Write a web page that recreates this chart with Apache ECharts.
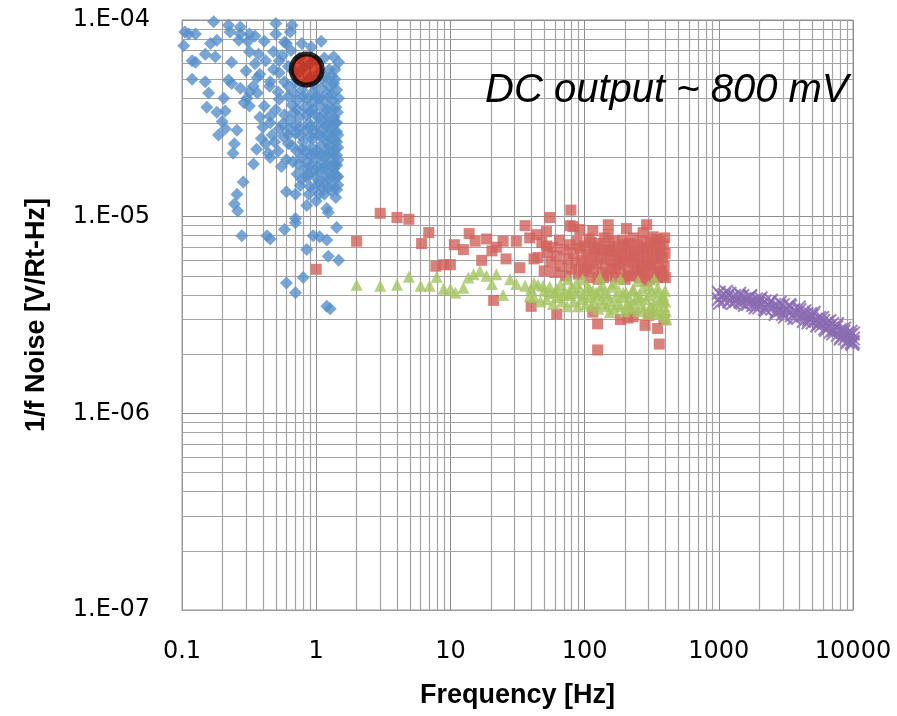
<!DOCTYPE html>
<html>
<head>
<meta charset="utf-8">
<script src="https://cdn.jsdelivr.net/npm/echarts@6/dist/echarts.min.js"></script>
<style>
  html, body { margin: 0; background: #fff; }
  #chart { width: 897px; height: 716px; }
</style>
</head>
<body>
<div id="chart"></div>
<script>
// frequency [Hz] / noise [V/rt-Hz] pairs
const xTicks = [0.1, 1, 10, 100, 1000, 10000]
const yTicks = [1e-7, 1e-6, 1e-5, 1e-4]
const noteText = 'DC output ~ 800 mV'

const blueData = [
  [0.172, 9.8e-5], [0.222, 9.4e-5], [0.272, 9.2e-5], [0.50, 9.6e-5], [0.66, 9.4e-5],
  [0.105, 8.7e-5], [0.126, 8.5e-5], [0.112, 8.5e-5], [0.228, 8.7e-5], [0.272, 8.5e-5],
  [0.318, 8.5e-5], [0.35, 8.3e-5], [0.50, 8.5e-5], [0.64, 8.7e-5], [0.103, 7.4e-5],
  [0.182, 7.9e-5], [0.163, 7.6e-5], [0.265, 7.9e-5], [0.31, 7.8e-5], [0.41, 7.8e-5],
  [0.78, 7.6e-5], [1.09, 7.8e-5], [0.92, 7.3e-5], [0.60, 7.6e-5], [0.149, 6.7e-5],
  [0.177, 6.5e-5], [0.119, 6.2e-5], [0.126, 6.1e-5], [0.234, 6.1e-5], [0.318, 6.9e-5],
  [0.372, 6.7e-5], [0.48, 6.9e-5], [0.53, 6.2e-5], [0.35, 6.0e-5], [1.35, 6.5e-5],
  [1.47, 6.1e-5], [1.38, 5.6e-5], [0.119, 5.0e-5], [0.149, 4.85e-5], [0.222, 4.95e-5],
  [0.234, 4.75e-5], [0.272, 4.5e-5], [0.365, 5.1e-5], [0.38, 5.3e-5], [0.53, 5.4e-5],
  [0.58, 4.85e-5], [0.454, 4.85e-5], [0.365, 4.25e-5], [0.318, 4.3e-5], [1.12, 5.0e-5],
  [1.35, 4.75e-5], [1.47, 4.0e-5], [0.158, 4.25e-5], [0.205, 4.0e-5], [0.305, 4.0e-5],
  [0.318, 3.65e-5], [0.41, 3.65e-5], [0.50, 3.5e-5], [0.454, 3.25e-5], [0.38, 3.2e-5],
  [0.153, 3.6e-5], [0.182, 3.4e-5], [0.21, 3.45e-5], [0.199, 3.05e-5], [0.454, 3.0e-5],
  [0.56, 2.95e-5], [0.53, 3.95e-5], [0.68, 4.25e-5], [0.80, 4.1e-5], [1.0, 4.1e-5],
  [0.72, 3.5e-5], [0.90, 3.4e-5], [1.2, 3.5e-5], [1.42, 3.0e-5], [0.70, 2.9e-5],
  [0.90, 2.85e-5], [1.12, 2.8e-5], [1.42, 2.7e-5], [0.187, 2.6e-5], [0.257, 2.75e-5],
  [0.21, 2.8e-5], [0.40, 2.85e-5], [0.53, 2.8e-5], [0.62, 2.6e-5], [0.76, 2.6e-5],
  [0.95, 2.5e-5], [1.2, 2.4e-5], [1.42, 2.4e-5], [0.246, 2.35e-5], [0.24, 2.1e-5],
  [0.42, 2.35e-5], [0.49, 2.4e-5], [0.62, 2.35e-5], [0.78, 2.2e-5], [1.03, 2.15e-5],
  [1.27, 2.15e-5], [1.42, 2.05e-5], [0.341, 1.85e-5], [0.454, 2.0e-5], [0.60, 1.95e-5],
  [0.74, 1.85e-5], [0.87, 1.9e-5], [1.2, 1.82e-5], [1.42, 1.82e-5], [0.286, 1.5e-5],
  [0.72, 1.65e-5], [0.85, 1.58e-5], [1.06, 1.7e-5], [1.27, 1.65e-5], [1.42, 1.58e-5],
  [0.76, 1.44e-5], [0.90, 1.42e-5], [1.12, 1.4e-5], [1.42, 1.37e-5], [0.60, 1.34e-5],
  [0.70, 1.3e-5], [0.257, 1.3e-5], [0.246, 1.16e-5], [0.26, 1.07e-5], [0.85, 1.14e-5],
  [1.0, 1.2e-5], [1.2, 1.1e-5], [1.23, 1.05e-5], [0.70, 9.8e-6], [0.70, 9.3e-6],
  [0.279, 8.0e-6], [0.43, 8.0e-6], [0.454, 7.7e-6], [0.58, 8.6e-6], [0.95, 8.0e-6],
  [1.06, 7.9e-6], [1.2, 7.6e-6], [1.42, 8.8e-6], [0.85, 6.8e-6], [1.23, 6.3e-6],
  [1.47, 6.0e-6], [0.80, 4.9e-6], [0.60, 4.6e-6], [0.70, 4.1e-6], [1.2, 3.5e-6],
  [1.27, 3.4e-6],
  [0.62, 4.6e-5], [0.70, 4.8e-5], [0.78, 4.4e-5], [0.86, 4.0e-5], [0.93, 3.8e-5],
  [1.05, 3.7e-5], [1.15, 3.9e-5], [1.3, 4.2e-5], [1.4, 3.6e-5], [1.25, 3.2e-5],
  [1.1, 3.1e-5], [0.98, 3.3e-5], [0.82, 3.6e-5], [0.66, 3.7e-5], [0.58, 3.3e-5],
  [0.64, 3.1e-5], [0.75, 3.2e-5], [0.88, 3.0e-5], [1.0, 2.9e-5], [1.18, 2.9e-5],
  [1.32, 2.85e-5], [1.45, 2.6e-5], [1.3, 2.5e-5], [1.12, 2.55e-5], [0.98, 2.7e-5],
  [0.84, 2.75e-5], [0.70, 2.65e-5], [0.57, 2.55e-5], [0.66, 2.3e-5], [0.80, 2.4e-5],
  [0.92, 2.25e-5], [1.08, 2.3e-5], [1.25, 2.3e-5], [1.38, 2.2e-5], [1.45, 1.95e-5],
  [1.3, 1.95e-5], [1.15, 2.0e-5], [1.0, 1.95e-5], [0.90, 2.05e-5], [0.78, 2.0e-5],
  [0.67, 1.9e-5], [1.1, 1.75e-5], [1.35, 1.75e-5], [1.45, 1.6e-5], [1.25, 1.55e-5],
  [0.95, 1.7e-5], [0.82, 1.75e-5], [1.05, 1.5e-5], [1.32, 1.45e-5], [0.78, 1.55e-5],
  [1.15, 1.3e-5], [1.4, 1.25e-5], [0.88, 1.3e-5], [0.52, 4.3e-5], [0.45, 4.6e-5],
  [0.48, 5.6e-5], [0.42, 6.2e-5], [0.56, 6.6e-5], [0.72, 5.3e-5], [0.62, 5.8e-5],
  [1.38, 5.0e-5], [1.42, 4.4e-5], [1.25, 4.6e-5], [1.1, 4.5e-5], [0.96, 4.7e-5],
  [0.90, 5.1e-5], [0.47, 2.6e-5], [0.39, 2.5e-5], [0.36, 2.2e-5], [0.44, 2.1e-5],
  [0.52, 2.15e-5], [0.55, 1.8e-5], [1.0, 6.2e-5], [1.15, 6.4e-5], [0.65, 7.0e-5],
  [0.58, 7.7e-5], [0.30, 5.5e-5], [0.34, 4.6e-5], [0.29, 3.8e-5],
  [0.95, 4.3e-5], [1.05, 4.0e-5], [1.2, 4.2e-5], [1.33, 3.9e-5], [1.44, 3.4e-5],
  [1.36, 3.2e-5], [1.22, 3.0e-5], [1.06, 3.2e-5], [0.94, 3.5e-5], [0.84, 3.3e-5],
  [0.73, 3.9e-5], [0.62, 4.1e-5], [0.68, 3.4e-5], [1.16, 3.4e-5], [1.28, 3.6e-5],
  [1.4, 3.0e-5], [1.3, 2.7e-5], [1.2, 2.6e-5], [1.05, 2.6e-5], [0.9, 2.55e-5],
  [0.76, 2.85e-5], [0.63, 2.8e-5], [1.38, 2.45e-5], [1.45, 2.25e-5], [1.32, 2.1e-5],
  [1.2, 2.15e-5], [1.08, 2.05e-5], [0.96, 2.1e-5], [0.84, 2.15e-5], [0.72, 2.15e-5],
  [1.4, 1.85e-5], [1.28, 1.8e-5], [1.16, 1.85e-5], [1.02, 1.8e-5], [0.9, 1.8e-5],
  [1.38, 1.65e-5], [1.2, 1.6e-5], [1.12, 1.5e-5], [1.3, 1.35e-5], [1.45, 1.45e-5],
  [0.98, 1.6e-5], [0.87, 1.65e-5], [1.22, 1.4e-5], [0.98, 1.4e-5], [1.05, 1.3e-5],
  [0.8, 5.7e-5], [0.9, 6.0e-5], [1.05, 5.4e-5], [1.25, 5.6e-5], [0.75, 6.4e-5],
  [0.84, 4.8e-5], [1.0, 5.0e-5], [1.18, 5.1e-5], [1.3, 5.2e-5], [0.68, 5.5e-5]
]

const redData = [
  [1.0, 5.4e-6], [2.0, 7.5e-6], [3.0, 1.04e-5], [4.0, 9.9e-6], [4.9, 9.7e-6],
  [6.9, 8.3e-6], [6.1, 7.3e-6], [7.8, 5.6e-6], [8.9, 5.7e-6], [10, 5.7e-6],
  [10.7, 7.2e-6], [12.5, 6.8e-6], [13.8, 8.2e-6], [15.3, 7.5e-6], [17.1, 6.0e-6],
  [18.6, 7.7e-6], [20.4, 6.7e-6], [22, 7.0e-6], [24.7, 7.5e-6], [26, 6.1e-6],
  [31, 7.5e-6], [36, 9.0e-6], [39, 7.8e-6], [42, 6.1e-6], [44, 8.1e-6],
  [52, 8.4e-6], [55, 9.9e-6], [52, 7.1e-6], [33, 5.5e-6], [21, 3.75e-6],
  [40, 3.5e-6], [62, 3.2e-6], [79, 1.08e-5], [78, 9.0e-6], [82, 8.9e-6], [92, 8.6e-6],
  [115, 8.5e-6], [150, 9.1e-6], [150, 8.1e-6], [205, 8.7e-6], [290, 9.1e-6],
  [273, 8.3e-6], [115, 3.27e-6], [125, 2.85e-6], [125, 2.1e-6], [185, 3.0e-6],
  [350, 2.7e-6], [360, 2.25e-6], [282, 2.8e-6], [230, 3.1e-6], [390, 3.0e-6],
  [211, 3.05e-6], [300, 3.15e-6],
  [45, 6.2e-6], [48, 7.4e-6], [50, 5.3e-6], [53, 6.6e-6], [56, 5.9e-6],
  [58, 7.0e-6], [60, 5.2e-6], [62, 6.3e-6], [65, 7.6e-6], [67, 5.6e-6],
  [70, 6.8e-6], [72, 5.0e-6], [75, 6.1e-6], [78, 7.2e-6], [80, 5.4e-6],
  [83, 6.5e-6], [86, 5.8e-6], [88, 7.5e-6], [90, 5.1e-6], [93, 6.9e-6],
  [95, 6.0e-6], [98, 5.3e-6], [100, 7.1e-6], [103, 6.4e-6], [106, 5.6e-6],
  [108, 7.7e-6], [110, 4.9e-6], [113, 6.2e-6], [116, 5.4e-6], [118, 7.0e-6],
  [120, 6.6e-6], [123, 5.8e-6], [126, 4.8e-6], [128, 7.3e-6], [131, 6.1e-6],
  [134, 5.2e-6], [137, 6.8e-6], [140, 7.8e-6], [143, 5.6e-6], [146, 6.4e-6],
  [150, 5.0e-6], [153, 7.1e-6], [156, 6.0e-6], [160, 5.4e-6], [163, 6.7e-6],
  [166, 7.5e-6], [170, 4.9e-6], [173, 6.3e-6], [176, 5.7e-6], [180, 7.0e-6],
  [184, 5.2e-6], [188, 6.5e-6], [192, 7.6e-6], [196, 5.9e-6], [200, 4.8e-6],
  [204, 6.9e-6], [208, 6.1e-6], [212, 5.4e-6], [216, 7.3e-6], [220, 6.4e-6],
  [225, 5.0e-6], [230, 7.8e-6], [234, 5.8e-6], [238, 6.7e-6], [242, 5.3e-6],
  [247, 7.2e-6], [252, 6.2e-6], [256, 4.9e-6], [261, 6.9e-6], [266, 5.6e-6],
  [271, 7.5e-6], [276, 6.3e-6], [281, 5.1e-6], [286, 7.0e-6], [291, 5.9e-6],
  [296, 6.6e-6], [302, 4.8e-6], [308, 7.4e-6], [314, 5.5e-6], [320, 6.8e-6],
  [326, 6.1e-6], [332, 5.2e-6], [338, 7.1e-6], [344, 6.4e-6], [350, 4.9e-6],
  [356, 5.8e-6], [362, 7.6e-6], [368, 6.7e-6], [374, 5.3e-6], [380, 6.2e-6],
  [386, 7.2e-6], [392, 5.6e-6], [398, 6.5e-6], [400, 4.9e-6], [395, 7.8e-6],
  [385, 5.0e-6], [365, 5.2e-6], [345, 7.7e-6], [325, 7.9e-6], [305, 5.7e-6],
  [288, 4.7e-6], [270, 5.3e-6], [250, 5.5e-6], [232, 6.3e-6], [214, 5.0e-6],
  [198, 7.2e-6], [182, 6.0e-6], [168, 5.5e-6], [152, 6.8e-6], [138, 4.9e-6],
  [124, 6.9e-6], [112, 7.4e-6], [102, 5.5e-6]
]

const greenData = [
  [2.0, 4.5e-6], [3.0, 4.45e-6], [4.0, 4.5e-6], [4.9, 4.95e-6], [6.0, 4.45e-6],
  [7.0, 4.45e-6], [7.9, 4.95e-6], [8.9, 4.3e-6], [10, 4.3e-6], [10.9, 4.1e-6],
  [12.5, 4.35e-6], [13.6, 4.9e-6], [14.9, 5.1e-6], [16.6, 5.3e-6], [18.6, 5.0e-6],
  [20.4, 4.55e-6], [22, 5.1e-6], [24.7, 4.0e-6], [27.8, 4.8e-6], [31, 4.55e-6],
  [36, 4.45e-6], [39, 3.95e-6], [42, 4.6e-6], [49, 4.45e-6], [55, 4.1e-6],
  [62, 4.3e-6], [69, 4.0e-6], [78, 4.1e-6], [87, 4.6e-6], [97, 4.8e-6],
  [109, 4.3e-6], [122, 4.1e-6], [137, 4.45e-6], [154, 3.27e-6], [163, 4.6e-6],
  [185, 4.8e-6], [194, 4.1e-6], [217, 3.53e-6], [230, 4.3e-6], [258, 3.8e-6],
  [300, 4.45e-6], [325, 3.53e-6], [350, 4.35e-6], [385, 3.8e-6], [400, 3.1e-6],
  [408, 3.0e-6],
  [40, 4.3e-6], [42, 3.9e-6], [45, 4.5e-6], [47, 3.7e-6], [50, 4.2e-6],
  [52, 3.8e-6], [55, 4.4e-6], [58, 3.6e-6], [60, 4.1e-6], [63, 3.9e-6],
  [66, 4.5e-6], [68, 3.7e-6], [71, 4.2e-6], [74, 3.5e-6], [75, 4.8e-6],
  [77, 4.0e-6], [80, 4.4e-6], [83, 3.7e-6], [86, 4.1e-6], [89, 3.5e-6],
  [92, 4.3e-6], [95, 3.8e-6], [98, 4.0e-6], [102, 3.6e-6], [105, 4.4e-6],
  [108, 3.9e-6], [112, 3.5e-6], [115, 4.2e-6], [118, 3.7e-6], [122, 4.0e-6],
  [126, 3.4e-6], [130, 4.3e-6], [130, 4.9e-6], [134, 3.8e-6], [138, 3.6e-6],
  [142, 4.1e-6], [146, 3.5e-6], [150, 4.0e-6], [155, 3.7e-6], [160, 4.4e-6],
  [165, 3.4e-6], [170, 3.9e-6], [175, 3.6e-6], [180, 4.2e-6], [186, 3.5e-6],
  [192, 3.9e-6], [198, 3.3e-6], [204, 4.1e-6], [210, 3.6e-6], [216, 3.8e-6],
  [222, 3.4e-6], [228, 4.2e-6], [235, 3.6e-6], [242, 3.9e-6], [249, 3.3e-6],
  [250, 4.7e-6], [256, 4.0e-6], [263, 3.5e-6], [270, 4.3e-6], [278, 3.4e-6],
  [286, 3.8e-6], [294, 3.2e-6], [302, 4.0e-6], [310, 3.5e-6], [318, 4.2e-6],
  [326, 3.3e-6], [330, 4.8e-6], [335, 3.7e-6], [344, 3.2e-6], [352, 4.1e-6],
  [360, 3.4e-6], [368, 3.8e-6], [376, 3.2e-6], [384, 4.0e-6], [392, 3.5e-6],
  [400, 3.7e-6], [405, 3.3e-6], [398, 4.2e-6]
]

const purpleData = [
  [1000, 4.1e-6], [1000, 3.8e-6], [1050, 3.95e-6], [1100, 4.0e-6], [1100, 3.75e-6],
  [1150, 3.9e-6], [1200, 4.05e-6], [1200, 3.7e-6], [1250, 3.85e-6], [1300, 3.95e-6],
  [1350, 3.75e-6], [1400, 3.9e-6], [1450, 3.7e-6], [1500, 3.95e-6], [1500, 3.65e-6],
  [1600, 3.8e-6], [1650, 3.6e-6], [1700, 3.9e-6], [1750, 3.7e-6], [1800, 3.55e-6],
  [1900, 3.8e-6], [1950, 3.6e-6], [2000, 3.75e-6], [2000, 3.45e-6], [2100, 3.6e-6],
  [2200, 3.7e-6], [2200, 3.4e-6], [2300, 3.55e-6], [2400, 3.65e-6], [2500, 3.4e-6],
  [2600, 3.55e-6], [2700, 3.3e-6], [2800, 3.5e-6], [2900, 3.35e-6], [3000, 3.55e-6],
  [3000, 3.2e-6], [3150, 3.4e-6], [3300, 3.3e-6], [3400, 3.5e-6], [3500, 3.15e-6],
  [3600, 3.35e-6], [3800, 3.25e-6], [3900, 3.05e-6], [4000, 3.35e-6], [4200, 3.15e-6],
  [4300, 2.95e-6], [4500, 3.2e-6], [4700, 3.0e-6], [4800, 3.2e-6], [5000, 2.9e-6],
  [5000, 3.15e-6], [5300, 3.0e-6], [5500, 2.85e-6], [5600, 3.05e-6], [5800, 2.8e-6],
  [6000, 2.95e-6], [6200, 2.7e-6], [6400, 2.9e-6], [6600, 2.75e-6], [6800, 2.6e-6],
  [7000, 2.85e-6], [7200, 2.65e-6], [7500, 2.75e-6], [7700, 2.5e-6], [8000, 2.65e-6],
  [8200, 2.45e-6], [8500, 2.6e-6], [8700, 2.4e-6], [9000, 2.55e-6], [9200, 2.35e-6],
  [9500, 2.5e-6], [9800, 2.3e-6], [10000, 2.55e-6], [10000, 2.3e-6], [10000, 2.4e-6],
  [1020, 3.65e-6], [1130, 4.15e-6], [1280, 3.65e-6], [1420, 4.05e-6], [1560, 3.55e-6],
  [1720, 3.95e-6], [1880, 3.45e-6], [2050, 3.85e-6], [2250, 3.35e-6], [2450, 3.75e-6],
  [2650, 3.2e-6], [2850, 3.65e-6], [3100, 3.1e-6], [3350, 3.55e-6], [3650, 3.05e-6],
  [3950, 3.45e-6], [4350, 3.3e-6], [4650, 2.9e-6], [5100, 3.25e-6], [5400, 2.8e-6],
  [5900, 3.05e-6], [6300, 2.65e-6], [6700, 2.95e-6], [7100, 2.55e-6], [7600, 2.85e-6],
  [8100, 2.4e-6], [8600, 2.7e-6], [9100, 2.3e-6], [9600, 2.6e-6], [9900, 2.25e-6]
]

const markerPoint = [[0.85, 5.6e-5]]

// minor grid positions (2..9 inside each decade)
const minorX = []
const minorY = []
for (let d = 0.1; d < 10000; d *= 10) for (let k = 2; k <= 9; k++) minorX.push(+(d * k).toPrecision(6))
for (let d = 1e-7; d < 1e-4; d *= 10) for (let k = 2; k <= 9; k++) minorY.push(+(d * k).toPrecision(6))

const xMin = xTicks[0]
const xMax = xTicks[xTicks.length - 1]
const yMin = yTicks[0]
const yMax = yTicks[yTicks.length - 1]

const minorLines = minorX
  .map((v) => [{ coord: [v, yMin] }, { coord: [v, yMax] }])
  .concat(minorY.map((v) => [{ coord: [xMin, v] }, { coord: [xMax, v] }]))

const tickFont = '"DejaVu Sans", sans-serif'
const nameFont = '"Liberation Sans", Arial, sans-serif'
const crossPath = 'path://M0,1 L1,0 L5,4 L9,0 L10,1 L6,5 L10,9 L9,10 L5,6 L1,10 L0,9 L4,5 Z'

const myChart = echarts.init(document.getElementById('chart'))
const option = {
  animation: false,
  backgroundColor: '#fff',
  title: {
    text: noteText,
    left: 480,
    top: 66,
    textStyle: { fontFamily: nameFont, fontStyle: 'italic', fontWeight: 'normal', fontSize: 40, color: '#000' }
  },
  grid: { left: 182, right: 44, top: 20, bottom: 106, show: true, borderColor: '#999', borderWidth: 1 },
  xAxis: {
    type: 'log',
    logBase: 10,
    min: xMin,
    max: xMax,
    splitNumber: xTicks.length - 1,
    name: 'Frequency [Hz]',
    nameLocation: 'middle',
    nameGap: 72,
    nameTextStyle: { fontFamily: nameFont, fontWeight: 'bold', fontSize: 27, color: '#000' },
    axisLine: { lineStyle: { color: '#999' } },
    axisTick: { show: false },
    axisLabel: {
      margin: 30,
      fontFamily: tickFont,
      fontSize: 24,
      color: '#000',
      formatter: (v) => String(+v.toPrecision(6))
    },
    splitLine: { show: true, lineStyle: { color: '#8c8c8c', width: 1 } }
  },
  yAxis: {
    type: 'log',
    logBase: 10,
    min: yMin,
    max: yMax,
    splitNumber: yTicks.length - 1,
    name: '1/f Noise [V/Rt-Hz]',
    nameLocation: 'middle',
    nameGap: 132,
    nameTextStyle: { fontFamily: nameFont, fontWeight: 'bold', fontSize: 27, color: '#000' },
    axisLine: { show: true, lineStyle: { color: '#999' } },
    axisTick: { show: false },
    axisLabel: {
      margin: 32,
      fontFamily: tickFont,
      fontSize: 24,
      color: '#000',
      formatter: (v) => '1.E-0' + Math.round(-Math.log10(v))
    },
    splitLine: { show: true, lineStyle: { color: '#8c8c8c', width: 1 } }
  },
  series: [
    {
      type: 'scatter',
      data: [],
      silent: true,
      markLine: {
        silent: true,
        z: 1,
        precision: 12,
        symbol: 'none',
        label: { show: false },
        lineStyle: { color: '#a4a4a4', type: 'solid', width: 1.2, opacity: 1 },
        emphasis: { disabled: true },
        data: minorLines
      }
    },
    {
      type: 'scatter',
      data: blueData,
      symbol: 'diamond',
      symbolSize: 13,
      clip: false,
      itemStyle: { color: '#5790CB' }
    },
    {
      type: 'scatter',
      data: redData,
      symbol: 'rect',
      symbolSize: 11,
      clip: false,
      itemStyle: { color: '#D2625B' }
    },
    {
      type: 'scatter',
      data: greenData,
      symbol: 'triangle',
      symbolSize: 12,
      clip: false,
      itemStyle: { color: '#A6C462' }
    },
    {
      type: 'scatter',
      data: purpleData,
      symbol: crossPath,
      symbolSize: 15,
      clip: false,
      itemStyle: { color: '#8A6BB1' }
    },
    {
      type: 'scatter',
      data: markerPoint,
      symbol: 'circle',
      symbolSize: 31,
      z: 5,
      itemStyle: { color: '#D42000', borderColor: '#000', borderWidth: 5 }
    }
  ]
}
myChart.setOption(option)
</script>
</body>
</html>
